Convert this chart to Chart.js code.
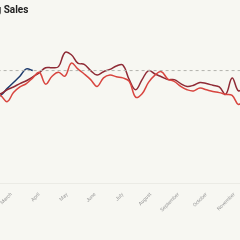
<!DOCTYPE html>
<html>
<head>
<meta charset="utf-8">
<script src="https://cdn.jsdelivr.net/npm/chart.js@4/dist/chart.umd.min.js"></script>
<style>
  html, body { margin: 0; padding: 0; background: #f7f7f2; overflow: hidden; }
  #wrap { position: absolute; left: -65px; top: 0; width: 360px; height: 240px; }
</style>
</head>
<body>
<div id="wrap"><canvas id="chart" width="360" height="240"></canvas></div>
<script>
const MONTHS = ["January","February","March","April","May","June","July",
  "August","September","October","November","December"];

// weekly sales index (week 0 = first week of January)
const THIS_YEAR = [82,79,84,80,77,81,76, 78,84,89.5,95,101.5,100];

const LAST_YEAR = [84,82,86,83,80,82,79,
  79.5,83,85.5,88.5,91,94.5,98,102.5,102.5,103.5,116,114,106.5,105.5,
  100,96,99,101,104,105,92,83,92,100,97,94.5,92,92,88.5,86,87,89.5,
  88.5,87,85.5,79,93.5,82,
  86,88,90,92,95,97,99];

const TWO_YEARS_AGO = [80,77,82,79,75,78,80,
  78,72.5,80.5,85.5,88.5,93.5,98.5,88,95,98.5,95,106.5,101.5,97,
  92,86,93.5,96,94.5,93.5,90.5,76.5,79.5,89.5,96,99,92.5,90.5,86,83,
  82,84.5,83,81.5,80.5,79,78,70,
  76,80,84,86,88,90,92];

const TARGET = 100;
const WEEKS = 52;

const pts = arr => arr.map((v, i) => ({ x: i, y: v }));

new Chart(document.getElementById('chart'), {
  type: 'line',
  data: {
    datasets: [
      {
        label: 'Target',
        data: [{ x: 0, y: TARGET }, { x: WEEKS, y: TARGET }],
        borderColor: '#b3b3ad',
        borderWidth: 1,
        borderDash: [3, 3],
        pointRadius: 0,
        tension: 0
      },
      {
        label: 'Two years ago',
        data: pts(TWO_YEARS_AGO),
        borderColor: '#d8453f',
        borderWidth: 1.5,
        pointRadius: 0,
        tension: 0.4
      },
      {
        label: 'Last year',
        data: pts(LAST_YEAR),
        borderColor: '#8f2b36',
        borderWidth: 1.5,
        pointRadius: 0,
        tension: 0.4
      },
      {
        label: 'This year',
        data: pts(THIS_YEAR),
        borderColor: '#1f3c6e',
        borderWidth: 1.5,
        pointRadius: 0,
        tension: 0.4
      }
    ]
  },
  options: {
    responsive: false,
    animation: false,
    layout: { padding: { left: 0, right: 5, top: 0, bottom: 19 } },
    plugins: {
      legend: { display: false },
      tooltip: { enabled: false },
      title: {
        display: true,
        text: 'Weekly Rolling Sales',
        align: 'start',
        color: '#222',
        font: { family: 'Roboto', size: 10, weight: 'bold' },
        padding: { top: 4, bottom: 15 }
      }
    },
    scales: {
      x: {
        type: 'linear',
        min: 0,
        max: WEEKS,
        grid: { display: false, drawTicks: false },
        border: { display: true, color: '#ebebe5' },
        afterBuildTicks: axis => {
          axis.ticks = MONTHS.map((_, i) => ({ value: i * WEEKS / 12 }));
        },
        ticks: {
          autoSkip: false,
          minRotation: 45,
          maxRotation: 45,
          padding: 8,
          color: '#999',
          font: { family: 'Roboto', size: 5 },
          callback: (v, i) => MONTHS[i]
        }
      },
      y: {
        display: false,
        min: 0,
        max: 135
      }
    }
  }
});
</script>
</body>
</html>
